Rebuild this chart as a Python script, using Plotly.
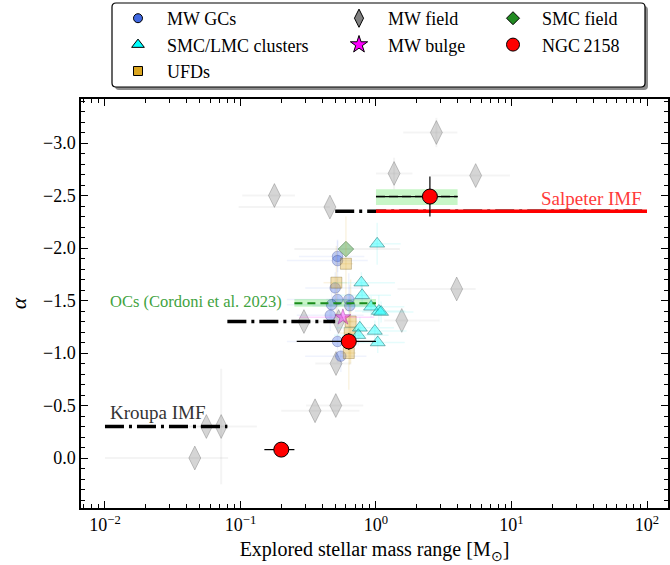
import math
import plotly.graph_objects as go

# ---------------- data ----------------
gc_mass = [0.52, 0.52, 0.50, 0.52, 0.63, 0.47, 0.64, 0.46, 0.52, 0.55]
gc_alpha = [-1.92, -1.88, -1.62, -1.51, -1.51, -1.46, -1.45, -1.36, -1.11, -0.97]
gc_mass_lo = [0.25, 0.30, 0.20, 0.30, 0.20, 0.25, 0.30, 0.20, 0.30, 0.25]
gc_mass_hi = [0.30, 0.35, 0.30, 0.35, 0.30, 0.30, 0.25, 0.35, 0.30, 0.30]
gc_alpha_err = [0.15, 0.20, 0.15, 0.20, 0.25, 0.15, 0.20, 0.15, 0.20, 0.15]

ufd_mass = [0.60, 0.51, 0.65, 0.64, 0.63]
ufd_alpha = [-1.85, -1.67, -1.30, -1.19, -1.00]
ufd_mass_err = [0.08, 0.10, 0.08, 0.10, 0.08]
ufd_alpha_err = [0.45, 0.35, 0.40, 0.30, 0.35]

mc_mass = [1.02, 0.78, 0.79, 0.92, 1.05, 1.09, 0.76, 0.98, 0.74, 1.03]
mc_alpha = [-2.04, -1.67, -1.55, -1.44, -1.40, -1.39, -1.24, -1.21, -1.17, -1.10]
mc_mass_lo = [0.10, 0.30, 0.25, 0.30, 0.35, 0.30, 0.25, 0.30, 0.25, 0.30]
mc_mass_hi = [0.50, 0.60, 0.50, 0.70, 0.60, 0.80, 0.60, 0.70, 0.50, 0.60]
mc_alpha_err = [0.20, 0.10, 0.10, 0.10, 0.15, 0.10, 0.10, 0.10, 0.10, 0.10]

field_mass = [0.046, 0.056, 0.072, 0.355, 0.505, 0.507, 0.294, 0.53, 1.55, 3.94, 0.457, 0.178, 1.36, 2.79, 5.44]
field_alpha = [0.0, -0.30, -0.30, -0.45, -0.50, -0.90, -1.30, -1.30, -1.31, -1.61, -2.39, -2.50, -2.71, -3.10, -2.69]
field_mass_lo = [0.036, 0.02, 0.03, 0.155, 0.20, 0.15, 0.10, 0.15, 0.40, 2.50, 0.36, 0.075, 0.36, 1.20, 2.90]
field_mass_hi = [0.035, 0.02, 0.06, 0.40, 0.30, 0.15, 0.10, 0.15, 1.40, 1.50, 0.00, 0.074, 0.50, 1.20, 4.30]
field_alpha_err = [0.0, 0.0, 0.55, 0.0, 0.0, 0.0, 0.0, 0.0, 0.0, 0.0, 0.0, 0.0, 0.15, 0.14, 0.0]

smc_field_mass = [0.60]
smc_field_alpha = [-1.99]
smc_field_mass_lo = [0.35]
smc_field_mass_hi = [0.90]

bulge_mass = [0.57]
bulge_alpha = [-1.34]
bulge_mass_lo = [0.30]
bulge_mass_hi = [0.40]

ngc_mass = [0.20, 0.63, 2.50]
ngc_alpha = [-0.08, -1.11, -2.49]
ngc_mass_err = [0.05, 0.37, 1.50]
ngc_alpha_err = [0.0, 0.08, 0.19]

# IMF reference lines (mass segments, slopes)
kroupa_mass = [[0.01, 0.08], [0.08, 0.5], [0.5, 100.0]]
kroupa_alpha = [-0.3, -1.3, -2.35]
salpeter_mass = [1.0, 100.0]
salpeter_alpha = -2.35

# Open clusters (Cordoni et al. 2023) and NGC 2158 high-mass band
oc_mass = [0.25, 1.0]
oc_alpha = -1.475
oc_alpha_band = [-1.515, -1.44]
hi_mass = [1.0, 4.0]
hi_alpha = -2.49
hi_alpha_band = [-2.56, -2.41]

x_ticks = [0.01, 0.1, 1, 10, 100]
x_ticktext = ["10<sup>−2</sup>", "10<sup>−1</sup>", "10<sup>0</sup>", "10<sup>1</sup>", "10<sup>2</sup>"]
y_ticks = [-3.0, -2.5, -2.0, -1.5, -1.0, -0.5, 0.0]
y_ticktext = ["−3.0", "−2.5", "−2.0", "−1.5", "−1.0", "−0.5", "0.0"]

FONT = "Liberation Serif"
W, H = 670, 565
L, R, T, B = 81, 668, 99, 508

fig = go.Figure()

def band(xs, ys, color):
    fig.add_trace(go.Scatter(x=[xs[0], xs[1], xs[1], xs[0], xs[0]],
                             y=[ys[0], ys[0], ys[1], ys[1], ys[0]],
                             fill="toself", fillcolor=color, mode="none",
                             showlegend=False, hoverinfo="skip"))

band(oc_mass, oc_alpha_band, "rgba(144,238,144,0.5)")
band(hi_mass, hi_alpha_band, "rgba(144,238,144,0.5)")

def pts(x, y, sym, size, fill, edge, xlo=None, xhi=None, yerr=None, ecolor=None, ewidth=1.5):
    kw = {}
    if xlo is not None:
        kw["error_x"] = dict(type="data", symmetric=False, array=xhi, arrayminus=xlo,
                             color=ecolor, thickness=ewidth, width=0)
    if yerr is not None:
        kw["error_y"] = dict(type="data", array=yerr, color=ecolor, thickness=ewidth, width=0)
    fig.add_trace(go.Scatter(x=x, y=y, mode="markers", showlegend=False,
                             marker=dict(symbol=sym, size=size, color=fill,
                                         line=dict(color=edge, width=1)), **kw))

pts(field_mass, field_alpha, "diamond-tall", 17, "rgba(150,150,150,0.4)", "rgba(100,100,100,0.35)",
    field_mass_lo, field_mass_hi, field_alpha_err, "rgba(128,128,128,0.09)", 2)
pts(smc_field_mass, smc_field_alpha, "diamond", 12, "rgba(34,139,34,0.4)", "rgba(20,80,20,0.4)",
    smc_field_mass_lo, smc_field_mass_hi, None, "rgba(128,128,128,0.1)", 2)
pts(gc_mass, gc_alpha, "circle", 10.5, "rgba(65,105,225,0.35)", "rgba(30,40,120,0.28)",
    gc_mass_lo, gc_mass_hi, gc_alpha_err, "rgba(65,105,225,0.08)", 1.5)
pts(ufd_mass, ufd_alpha, "square", 11, "rgba(218,165,32,0.36)", "rgba(110,80,10,0.3)",
    ufd_mass_err, ufd_mass_err, ufd_alpha_err, "rgba(218,165,32,0.13)", 1.5)
pts(mc_mass, mc_alpha, "triangle-up", 13, "rgba(0,255,255,0.4)", "rgba(0,90,90,0.45)",
    mc_mass_lo, mc_mass_hi, mc_alpha_err, "rgba(0,230,230,0.1)", 1.5)
pts(bulge_mass, bulge_alpha, "star", 12, "rgba(255,0,255,0.35)", "rgba(120,0,120,0.35)",
    bulge_mass_lo, bulge_mass_hi, None, "rgba(255,0,255,0.15)", 1.5)

# Kroupa IMF
for seg, a in zip(kroupa_mass, kroupa_alpha):
    fig.add_trace(go.Scatter(x=seg, y=[a, a], mode="lines", showlegend=False, hoverinfo="skip",
                             line=dict(color="black", width=3.5, dash="19px,5px,3px,5px")))
# Salpeter IMF
fig.add_trace(go.Scatter(x=salpeter_mass, y=[salpeter_alpha] * 2, mode="lines", showlegend=False,
                         hoverinfo="skip", line=dict(color="red", width=3.5)))
# dashed lines over bands
fig.add_trace(go.Scatter(x=oc_mass, y=[oc_alpha] * 2, mode="lines", showlegend=False, hoverinfo="skip",
                         line=dict(color="#1a8c1a", width=2, dash="8px,5px")))
fig.add_trace(go.Scatter(x=hi_mass, y=[hi_alpha] * 2, mode="lines", showlegend=False, hoverinfo="skip",
                         line=dict(color="black", width=1.5, dash="9px,4px")))

# NGC 2158
fig.add_trace(go.Scatter(x=ngc_mass, y=ngc_alpha, mode="markers", showlegend=False,
                         marker=dict(symbol="circle", size=15, color="red", line=dict(color="black", width=1)),
                         error_x=dict(type="data", array=ngc_mass_err, color="black", thickness=1.2, width=0),
                         error_y=dict(type="data", array=ngc_alpha_err, color="black", thickness=1.2, width=0)))

# ---------------- legend entries ----------------
leg_items = [
    ("MW GCs", "circle", 9, "royalblue", "legend"),
    ("SMC/LMC clusters", "triangle-up", 11, "cyan", "legend"),
    ("UFDs", "square", 9, "goldenrod", "legend"),
    ("MW field", "diamond-tall", 13, "gray", "legend2"),
    ("MW bulge", "star", 13, "magenta", "legend2"),
    ("SMC field", "diamond", 10, "forestgreen", "legend3"),
    ("NGC\u20092158", "circle", 13, "red", "legend3"),
]
for name, sym, size, col, lg in leg_items:
    fig.add_trace(go.Scatter(x=[None], y=[None], mode="markers", name=name, legend=lg,
                             marker=dict(symbol=sym, size=size, color=col, line=dict(color="black", width=1))))

def px2paper_x(px):
    return (px - L) / (R - L)
def px2paper_y(py):
    return (B - py) / (B - T)

leg_common = dict(xref="paper", yref="paper", xanchor="left", yanchor="top",
                  bgcolor="rgba(0,0,0,0)", borderwidth=0, itemwidth=48,
                  font=dict(family=FONT, size=18, color="black"), tracegroupgap=0)
fig.update_layout(
    legend=dict(x=px2paper_x(109), y=px2paper_y(0), **leg_common),
    legend2=dict(x=px2paper_x(330), y=px2paper_y(0), **leg_common),
    legend3=dict(x=px2paper_x(484), y=px2paper_y(0), **leg_common),
)

# legend frame (shadow + rounded box) in paper coords
def rounded(x0p, y0p, x1p, y1p, r=4):
    x0, x1 = px2paper_x(x0p), px2paper_x(x1p)
    yt, yb = px2paper_y(y0p), px2paper_y(y1p)
    rx, ry = r / (R - L), r / (B - T)
    return (f"M {x0+rx},{yt} L {x1-rx},{yt} Q {x1},{yt} {x1},{yt-ry} "
            f"L {x1},{yb+ry} Q {x1},{yb} {x1-rx},{yb} L {x0+rx},{yb} Q {x0},{yb} {x0},{yb+ry} "
            f"L {x0},{yt-ry} Q {x0},{yt} {x0+rx},{yt} Z")

fig.add_shape(type="path", xref="paper", yref="paper", path=rounded(115, 6, 648, 90),
              fillcolor="rgba(0,0,0,0.45)", line=dict(width=0), layer="below")
fig.add_shape(type="path", xref="paper", yref="paper", path=rounded(112, 3, 645, 87),
              fillcolor="white", line=dict(color="black", width=1.2), layer="below")

# ---------------- annotations ----------------
fig.add_annotation(x=math.log10(0.0105), y=-0.43, text="Kroupa IMF", showarrow=False,
                   xanchor="left", yanchor="middle", font=dict(family=FONT, size=19, color="#333333"))
fig.add_annotation(x=math.log10(95), y=-2.47, text="Salpeter IMF", showarrow=False,
                   xanchor="right", yanchor="middle", font=dict(family=FONT, size=19, color="#ff3a3a"))
fig.add_annotation(x=math.log10(0.0105), y=-1.49, text="OCs (Cordoni et al. 2023)", showarrow=False,
                   xanchor="left", yanchor="middle", font=dict(family=FONT, size=16.5, color="#3fa33f"))

minor_x = [k * 10 ** d for d in range(-3, 3) for k in range(2, 10)]

fig.update_layout(
    width=W, height=H,
    margin=dict(l=L, r=W - R, t=T, b=H - B, autoexpand=False),
    paper_bgcolor="white", plot_bgcolor="white",
    font=dict(family=FONT, color="black"),
    showlegend=True,
    xaxis=dict(type="log", range=[-2.177, 2.155], showgrid=False, zeroline=False,
               showline=True, linecolor="black", linewidth=1.5, mirror="allticks",
               ticks="inside", ticklen=7, tickwidth=1.2, tickcolor="black",
               tickmode="array", tickvals=x_ticks, ticktext=x_ticktext,
               tickfont=dict(family=FONT, size=18, color="black"),
               minor=dict(ticks="inside", ticklen=4, tickwidth=1, tickcolor="black",
                          tickmode="array", tickvals=minor_x, showgrid=False),
               title=dict(text="Explored stellar mass range [M<sub>⊙</sub>]",
                          font=dict(family=FONT, size=20, color="black"), standoff=8)),
    yaxis=dict(range=[0.476, -3.419], showgrid=False, zeroline=False,
               showline=True, linecolor="black", linewidth=1.5, mirror="allticks",
               ticks="inside", ticklen=7, tickwidth=1.2, tickcolor="black",
               tickmode="array", tickvals=y_ticks, ticktext=y_ticktext,
               tickfont=dict(family=FONT, size=18, color="black"),
               minor=dict(ticks="inside", ticklen=4, tickwidth=1, tickcolor="black",
                          dtick=0.1, showgrid=False),
               title=dict(text="<i>α</i>", font=dict(family=FONT, size=22, color="black"), standoff=10)),
)

fig.write_html("out.html", config={"displayModeBar": False},
               post_script="document.body.style.margin='0px';document.body.style.padding='0px';")
